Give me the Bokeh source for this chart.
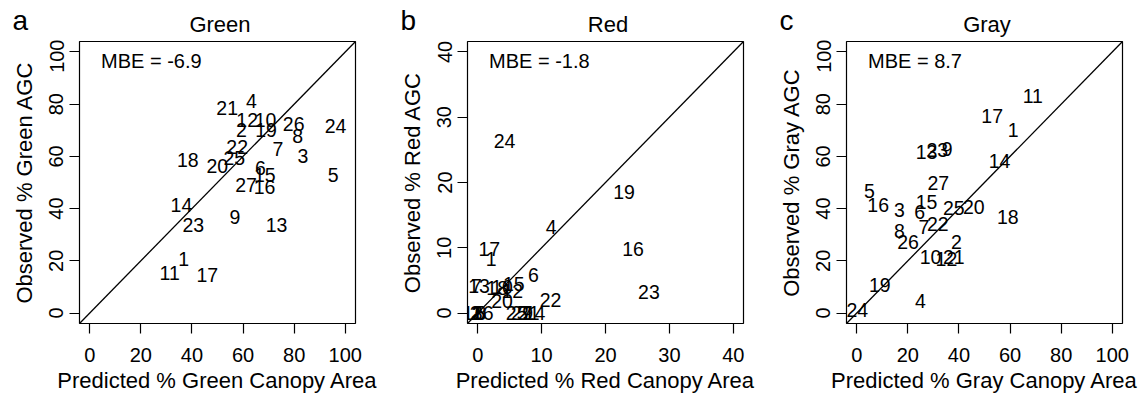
from bokeh.plotting import figure
from bokeh.models import Range1d, FixedTicker, Slope, Label, ColumnDataSource
from bokeh.layouts import row, column
from bokeh.embed import file_html
from bokeh.resources import INLINE
from bokeh.core.properties import value

# ---------------- data ----------------
site_ids = list(range(1, 28))

green_pred = [36.8, 59.4, 83.4, 63.3, 95.3, 66.8, 73.6, 81.4, 56.8, 68.8, 31.3, 61.6, 73.1, 35.9,
              68.5, 68.4, 46.0, 38.4, 69.0, 49.9, 53.8, 57.7, 40.5, 96.2, 56.6, 79.8, 61.2]
green_obs = [20.8, 70.2, 60.3, 81.4, 52.7, 55.6, 62.9, 68.0, 36.7, 74.0, 15.3, 74.0, 33.8, 41.2,
             52.7, 48.2, 14.6, 58.8, 70.2, 56.5, 78.5, 63.5, 33.8, 71.6, 59.5, 72.5, 49.2]

red_pred = [2.1, -0.4, -0.1, 11.5, 0.3, 8.7, -0.2, 0.5, 7.8, 3.8, -0.8, 5.4, 0.2, 8.9,
            5.65, 24.3, 1.8, 3.05, 22.9, 3.8, 8.0, 11.4, 26.8, 4.2, 6.1, 0.8, 6.9]
red_obs = [8.3, 0.0, 0.0, 13.2, 0.0, 5.9, 4.2, 0.0, 0.0, 4.0, 0.0, 3.35, 4.2, 0.0,
           4.5, 9.8, 9.8, 3.8, 18.6, 1.9, 0.0, 2.0, 3.2, 26.3, 0.0, 0.0, 0.0]

gray_pred = [61.2, 39.0, 16.7, 24.95, 5.0, 24.6, 26.3, 16.7, 35.4, 28.9, 68.9, 35.1, 27.3, 55.9,
             27.3, 8.4, 53.0, 59.1, 9.0, 45.8, 38.0, 31.7, 31.5, 0.2, 38.0, 20.1, 31.9]
gray_obs = [70.2, 27.1, 39.5, 4.8, 46.9, 38.6, 32.9, 31.6, 62.9, 21.4, 83.3, 20.8, 61.6, 58.4,
            42.5, 41.2, 75.3, 36.7, 10.9, 40.8, 21.4, 34.2, 62.3, 1.0, 40.3, 27.1, 49.9]

panel_letters = ["a", "b", "c"]
panel_titles = ["Green", "Red", "Gray"]
mbe_values = ["-6.9", "-1.8", "8.7"]
x_labels = ["Predicted % Green Canopy Area", "Predicted % Red Canopy Area", "Predicted % Gray Canopy Area"]
y_labels = ["Observed % Green AGC", "Observed % Red AGC", "Observed % Gray AGC"]
ticks_100 = [0, 20, 40, 60, 80, 100]
ticks_40 = [0, 10, 20, 30, 40]

# ---------------- layout ----------------
FONT = "Liberation Sans"
FW, FH = 276, 282
HEAD_H = 39
H = 361
BT = 2
BB = H - BT - FH

borders = [(79, 41), (71, 32), (71, 21)]
widths = [bl + FW + br for bl, br in borders]
TOTAL_W = sum(widths)


def make_panel(pred, obs, lo, hi, ticks, mbe, xlabel, ylabel, bl, br):
    W = bl + FW + br
    p = figure(width=W, height=H, x_range=Range1d(lo, hi), y_range=Range1d(lo, hi),
               output_backend="svg", toolbar_location=None,
               min_border_left=bl, min_border_right=br,
               min_border_top=BT, min_border_bottom=BB)
    p.grid.visible = False
    p.outline_line_color = "black"
    p.outline_line_width = 1.2
    p.outline_line_alpha = 1.0
    p.background_fill_color = "white"
    p.border_fill_color = "white"
    for ax in (p.xaxis[0], p.yaxis[0]):
        ax.ticker = FixedTicker(ticks=ticks)
        ax.axis_line_color = None
        ax.major_tick_out = 10
        ax.major_tick_in = 0
        ax.minor_tick_line_color = None
        ax.major_tick_line_color = "black"
        ax.major_tick_line_width = 1.2
        ax.major_label_text_font = FONT
        ax.major_label_text_font_size = "20px"
        ax.major_label_text_color = "black"
        ax.axis_label_text_font = FONT
        ax.axis_label_text_font_size = "22px"
        ax.axis_label_text_font_style = "normal"
        ax.axis_label_text_color = "black"
    p.xaxis.axis_label = xlabel
    p.xaxis.major_label_standoff = 14
    p.xaxis.axis_label_standoff = 3
    p.yaxis.axis_label = ylabel
    p.yaxis.major_label_orientation = "parallel"
    p.yaxis.major_label_standoff = 6
    p.yaxis.axis_label_standoff = 10

    p.add_layout(Slope(gradient=1, y_intercept=0, line_color="black", line_width=1.3))

    src = ColumnDataSource(dict(x=pred, y=obs, t=[str(i) for i in site_ids]))
    p.text("x", "y", text="t", source=src, text_font=value(FONT), text_font_size="19.5px",
           text_align="center", text_baseline="middle", text_color="black")

    ppx = FW / (hi - lo)
    ppy = FH / (hi - lo)
    p.add_layout(Label(x=lo + 21.5 / ppx, y=hi - 19 / ppy, text=f"MBE = {mbe}",
                       text_font=FONT, text_font_size="20px", text_color="black",
                       text_align="left", text_baseline="middle"))
    return p


# header strip with panel letters and titles (kept inside its own frame so nothing is clipped)
head = figure(width=TOTAL_W, height=HEAD_H, x_range=Range1d(0, TOTAL_W), y_range=Range1d(0, HEAD_H),
              output_backend="svg", toolbar_location=None,
              min_border_left=0, min_border_right=0, min_border_top=0, min_border_bottom=0)
head.axis.visible = False
head.grid.visible = False
head.outline_line_color = None
head.background_fill_color = "white"
head.border_fill_color = "white"

frame_lefts = []
acc = 0
for (bl, br), w in zip(borders, widths):
    frame_lefts.append(acc + bl)
    acc += w

for i in range(3):
    fl = frame_lefts[i]
    head.add_layout(Label(x=fl + FW / 2 + 2.5, y=HEAD_H - 23.5, text=panel_titles[i],
                          text_font=FONT, text_font_size="22px", text_color="black",
                          text_align="center", text_baseline="middle"))
    head.add_layout(Label(x=fl - 67, y=HEAD_H - 19.5, text=panel_letters[i],
                          text_font=FONT, text_font_size="28px", text_color="black",
                          text_align="left", text_baseline="middle"))

pa = make_panel(green_pred, green_obs, -4, 104, ticks_100, mbe_values[0], x_labels[0], y_labels[0], *borders[0])
pb = make_panel(red_pred, red_obs, -1.6, 41.6, ticks_40, mbe_values[1], x_labels[1], y_labels[1], *borders[1])
pc = make_panel(gray_pred, gray_obs, -4, 104, ticks_100, mbe_values[2], x_labels[2], y_labels[2], *borders[2])

layout = column(head, row(pa, pb, pc))
open("out.html", "w").write(file_html(layout, INLINE))
